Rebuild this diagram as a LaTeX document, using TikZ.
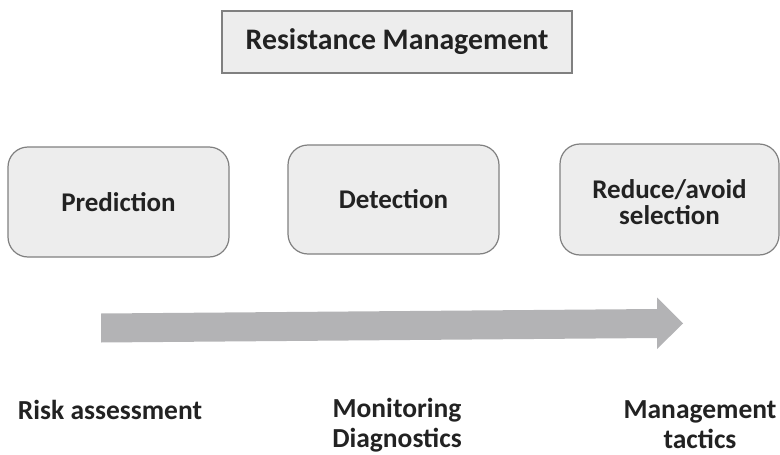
\documentclass[tikz,border=0pt]{standalone}
\usepackage{fontspec}
\setmainfont{Carlito}
\definecolor{boxfill}{HTML}{EDEDED}
\definecolor{boxline}{HTML}{808080}
\definecolor{arrowfill}{HTML}{B3B3B5}
\definecolor{txt}{HTML}{222222}
\begin{document}
\begin{tikzpicture}[x=1pt,y=-1pt,
  titlebox/.style={draw=boxline,line width=1.2pt,fill=boxfill,minimum width=350pt,minimum height=62pt,inner sep=0pt},
  stagebox/.style={draw=boxline,line width=1.2pt,fill=boxfill,rounded corners=20pt,inner sep=0pt,align=center},
  lbl/.style={text=txt,font=\bfseries\fontsize{27.5}{30}\selectfont,align=center,inner sep=0pt}]
\useasboundingbox (0,0) rectangle (780,455);
\node[titlebox,text=txt,font=\bfseries\fontsize{29.8}{34}\selectfont] (title) at (397,42) {Resistance Management};
\node[stagebox,minimum width=221pt,minimum height=110pt] (pred) at (118.5,202) {};
\node[stagebox,minimum width=211pt,minimum height=109pt] (det) at (393.5,199.5) {};
\node[stagebox,minimum width=219pt,minimum height=111pt] (red) at (669.5,199.5) {};
\node[lbl,font=\bfseries\fontsize{27}{30}\selectfont] (predt) at (pred.center) {Prediction};
\node[lbl,font=\bfseries\fontsize{27}{30}\selectfont] (dett) at (det.center) {Detection};
\node[lbl,font=\bfseries\fontsize{27}{26}\selectfont] (redt) at ([yshift=-3pt]red.center) {Reduce/avoid\\selection};
\coordinate (a1) at (101,313.5);
\coordinate (a2) at (657,309);
\coordinate (a3) at (657,297.5);
\coordinate (a4) at (683,323.5);
\coordinate (a5) at (657,349);
\coordinate (a6) at (657,338);
\coordinate (a7) at (101,342.5);
\fill[arrowfill] (a1) -- (a2) -- (a3) -- (a4) -- (a5) -- (a6) -- (a7) -- cycle;
\node[lbl] (risk) at (110,410) {Risk assessment};
\node[lbl] (mon) at (397,425) {Monitoring\\Diagnostics};
\node[lbl] (man) at (700,425) {Management\\tactics};
\end{tikzpicture}
\end{document}
